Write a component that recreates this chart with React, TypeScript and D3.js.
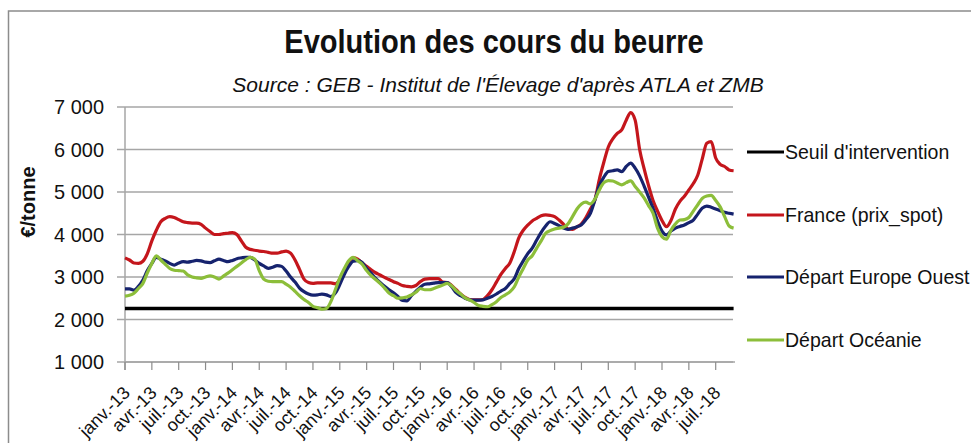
import React from 'react';
import * as d3 from 'd3';

const tickLabels = [
  'janv.-13','avr.-13','juil.-13','oct.-13',
  'janv.-14','avr.-14','juil.-14','oct.-14',
  'janv.-15','avr.-15','juil.-15','oct.-15',
  'janv.-16','avr.-16','juil.-16','oct.-16',
  'janv.-17','avr.-17','juil.-17','oct.-17',
  'janv.-18','avr.-18','juil.-18',
];
const yTicks = [1000, 2000, 3000, 4000, 5000, 6000, 7000];

// half-month steps from janv.-13
const france = [
  3450,3400,3330,3320,3370,3550,3850,4100,4300,4380,4420,4400,
  4350,4300,4280,4270,4270,4240,4150,4070,4000,4000,4020,4030,
  4045,4000,3850,3700,3650,3630,3610,3600,3580,3560,3560,3590,
  3610,3560,3400,3180,2950,2870,2850,2860,2860,2860,2860,2840,
  2950,3150,3350,3450,3420,3330,3250,3170,3100,3047,2990,2940,
  2890,2850,2800,2780,2770,2800,2890,2950,2960,2960,2960,2880,
  2870,2800,2700,2600,2520,2470,2460,2460,2470,2560,2700,2880,
  3060,3200,3330,3600,3920,4100,4220,4320,4380,4440,4460,4450,
  4420,4340,4240,4130,4120,4180,4250,4400,4600,4810,5300,5700,
  6060,6250,6380,6460,6690,6870,6690,6000,5550,5150,4800,4550,
  4330,4185,4330,4600,4780,4900,5050,5200,5400,5780,6145,6185,
  5800,5650,5600,5520,5500,
];
const europeOuest = [
  2720,2720,2690,2780,2930,3150,3320,3463,3420,3380,3320,3280,
  3330,3360,3350,3370,3390,3380,3350,3340,3380,3420,3390,3360,
  3390,3430,3450,3465,3460,3400,3320,3260,3205,3230,3270,3250,
  3140,3000,2880,2740,2655,2600,2575,2580,2595,2580,2540,2620,
  2820,3060,3250,3370,3385,3340,3200,3090,2970,2870,2780,2700,
  2630,2540,2450,2440,2560,2660,2760,2830,2840,2855,2870,2870,
  2870,2770,2630,2560,2500,2460,2455,2455,2460,2500,2540,2600,
  2670,2730,2850,2960,3200,3380,3550,3680,3870,4050,4200,4300,
  4260,4210,4150,4120,4150,4185,4230,4350,4500,4810,5150,5350,
  5480,5500,5520,5480,5600,5680,5560,5380,5140,4880,4615,4320,
  4080,3990,4080,4150,4190,4225,4280,4340,4480,4620,4670,4640,
  4600,4560,4520,4500,4480,
];
const oceanie = [
  2550,2570,2620,2730,2850,3100,3320,3495,3400,3300,3200,3160,
  3150,3140,3050,3000,2980,2970,3000,3030,3000,2950,3020,3090,
  3170,3250,3330,3410,3460,3420,3150,2950,2900,2890,2890,2890,
  2830,2760,2660,2560,2470,2400,2310,2280,2245,2260,2420,2700,
  2980,3200,3380,3463,3380,3300,3150,3030,2940,2850,2740,2620,
  2560,2500,2510,2530,2580,2640,2730,2700,2700,2730,2770,2810,
  2850,2790,2680,2600,2510,2460,2400,2330,2310,2300,2350,2420,
  2520,2580,2650,2770,3000,3200,3400,3500,3680,3850,4030,4090,
  4130,4150,4170,4250,4420,4600,4720,4760,4720,4830,5050,5220,
  5270,5260,5210,5170,5220,5260,5130,5000,4860,4680,4500,4150,
  3950,3890,4100,4250,4340,4350,4400,4550,4700,4850,4905,4920,
  4800,4650,4420,4200,4150,
];
const seuilIntervention = 2260;

const seriesNames = ["Seuil d'intervention", 'France (prix_spot)', 'Départ Europe Ouest', 'Départ Océanie'];
const seriesColors = ['#000000', '#C4161C', '#16236E', '#8CBE3A'];

const FONT = '"Liberation Sans", Arial, sans-serif';

export default function App() {
  const W = 971, H = 443;
  const x = d3.scaleLinear().domain([0, 68]).range([125, 733.6]);
  const y = d3.scaleLinear().domain([1000, 7000]).range([362, 107]);
  const line = d3.line<number>()
    .x((_, i) => x(i / 2))
    .y((d) => y(d))
    .curve(d3.curveMonotoneX);
  const seuilPts = [seuilIntervention, seuilIntervention];
  const seuilLine = d3.line<number>().x((_, i) => x(i * 68)).y((d) => y(d));
  const series = [france, europeOuest, oceanie];
  const legendY = [152, 215, 277, 340];

  return (
    <svg width={W} height={H} style={{ position: 'absolute', left: 0, top: 0, background: '#fff' }} fontFamily={FONT}>
      <rect x={0} y={0} width={W} height={H} fill="#fff" />
      <rect x={8.5} y={11} width={1000} height={500} fill="none" stroke="#8c8c8c" strokeWidth={1.5} />
      <text transform="translate(494,53) scale(0.88,1)" textAnchor="middle" fontSize={33} fontWeight="bold" fill="#111">Evolution des cours du beurre</text>
      <text x={498} y={92} textAnchor="middle" fontSize={21} fontStyle="italic" fill="#111">Source : GEB - Institut de l'Élevage d'après ATLA et ZMB</text>
      {yTicks.map((t) => (
        <g key={t}>
          <line x1={117} x2={733} y1={y(t)} y2={y(t)} stroke="#a6a6a6" strokeWidth={1.5} />
          <text transform={`translate(104,${y(t)}) scale(0.95,1)`} dy="0.35em" textAnchor="end" fontSize={21} fill="#111">{d3.format(',')(t).replace(',', ' ')}</text>
        </g>
      ))}
      <line x1={125} x2={125} y1={y(7000)} y2={370} stroke="#a6a6a6" strokeWidth={1.5} />
      <line x1={125} x2={735} y1={362} y2={362} stroke="#a6a6a6" strokeWidth={1.5} />
      {tickLabels.map((lab, i) => {
        const xx = x(i * 3);
        return (
          <g key={lab}>
            <line x1={xx} x2={xx} y1={362} y2={370} stroke="#8c8c8c" strokeWidth={1.2} />
            <text transform={`translate(${xx + 6},${394}) rotate(-45)`} textAnchor="end" fontSize={18} fill="#111">{lab}</text>
          </g>
        );
      })}
      <text transform="translate(35,202) rotate(-90)" textAnchor="middle" fontSize={20} fontWeight="bold" fill="#111">€/tonne</text>
      <path d={seuilLine(seuilPts) || ''} fill="none" stroke={seriesColors[0]} strokeWidth={3.5} />
      {series.map((s, k) => (
        <path key={k} d={line(s) || ''} fill="none" stroke={seriesColors[k + 1]} strokeWidth={3.2} strokeLinejoin="round" />
      ))}
      {seriesNames.map((n, k) => (
        <g key={n}>
          <line x1={747} x2={784} y1={legendY[k]} y2={legendY[k]} stroke={seriesColors[k]} strokeWidth={3} />
          <text transform={`translate(785,${legendY[k]}) scale(0.93,1)`} dy="0.35em" fontSize={21} fill="#111">{n}</text>
        </g>
      ))}
    </svg>
  );
}
